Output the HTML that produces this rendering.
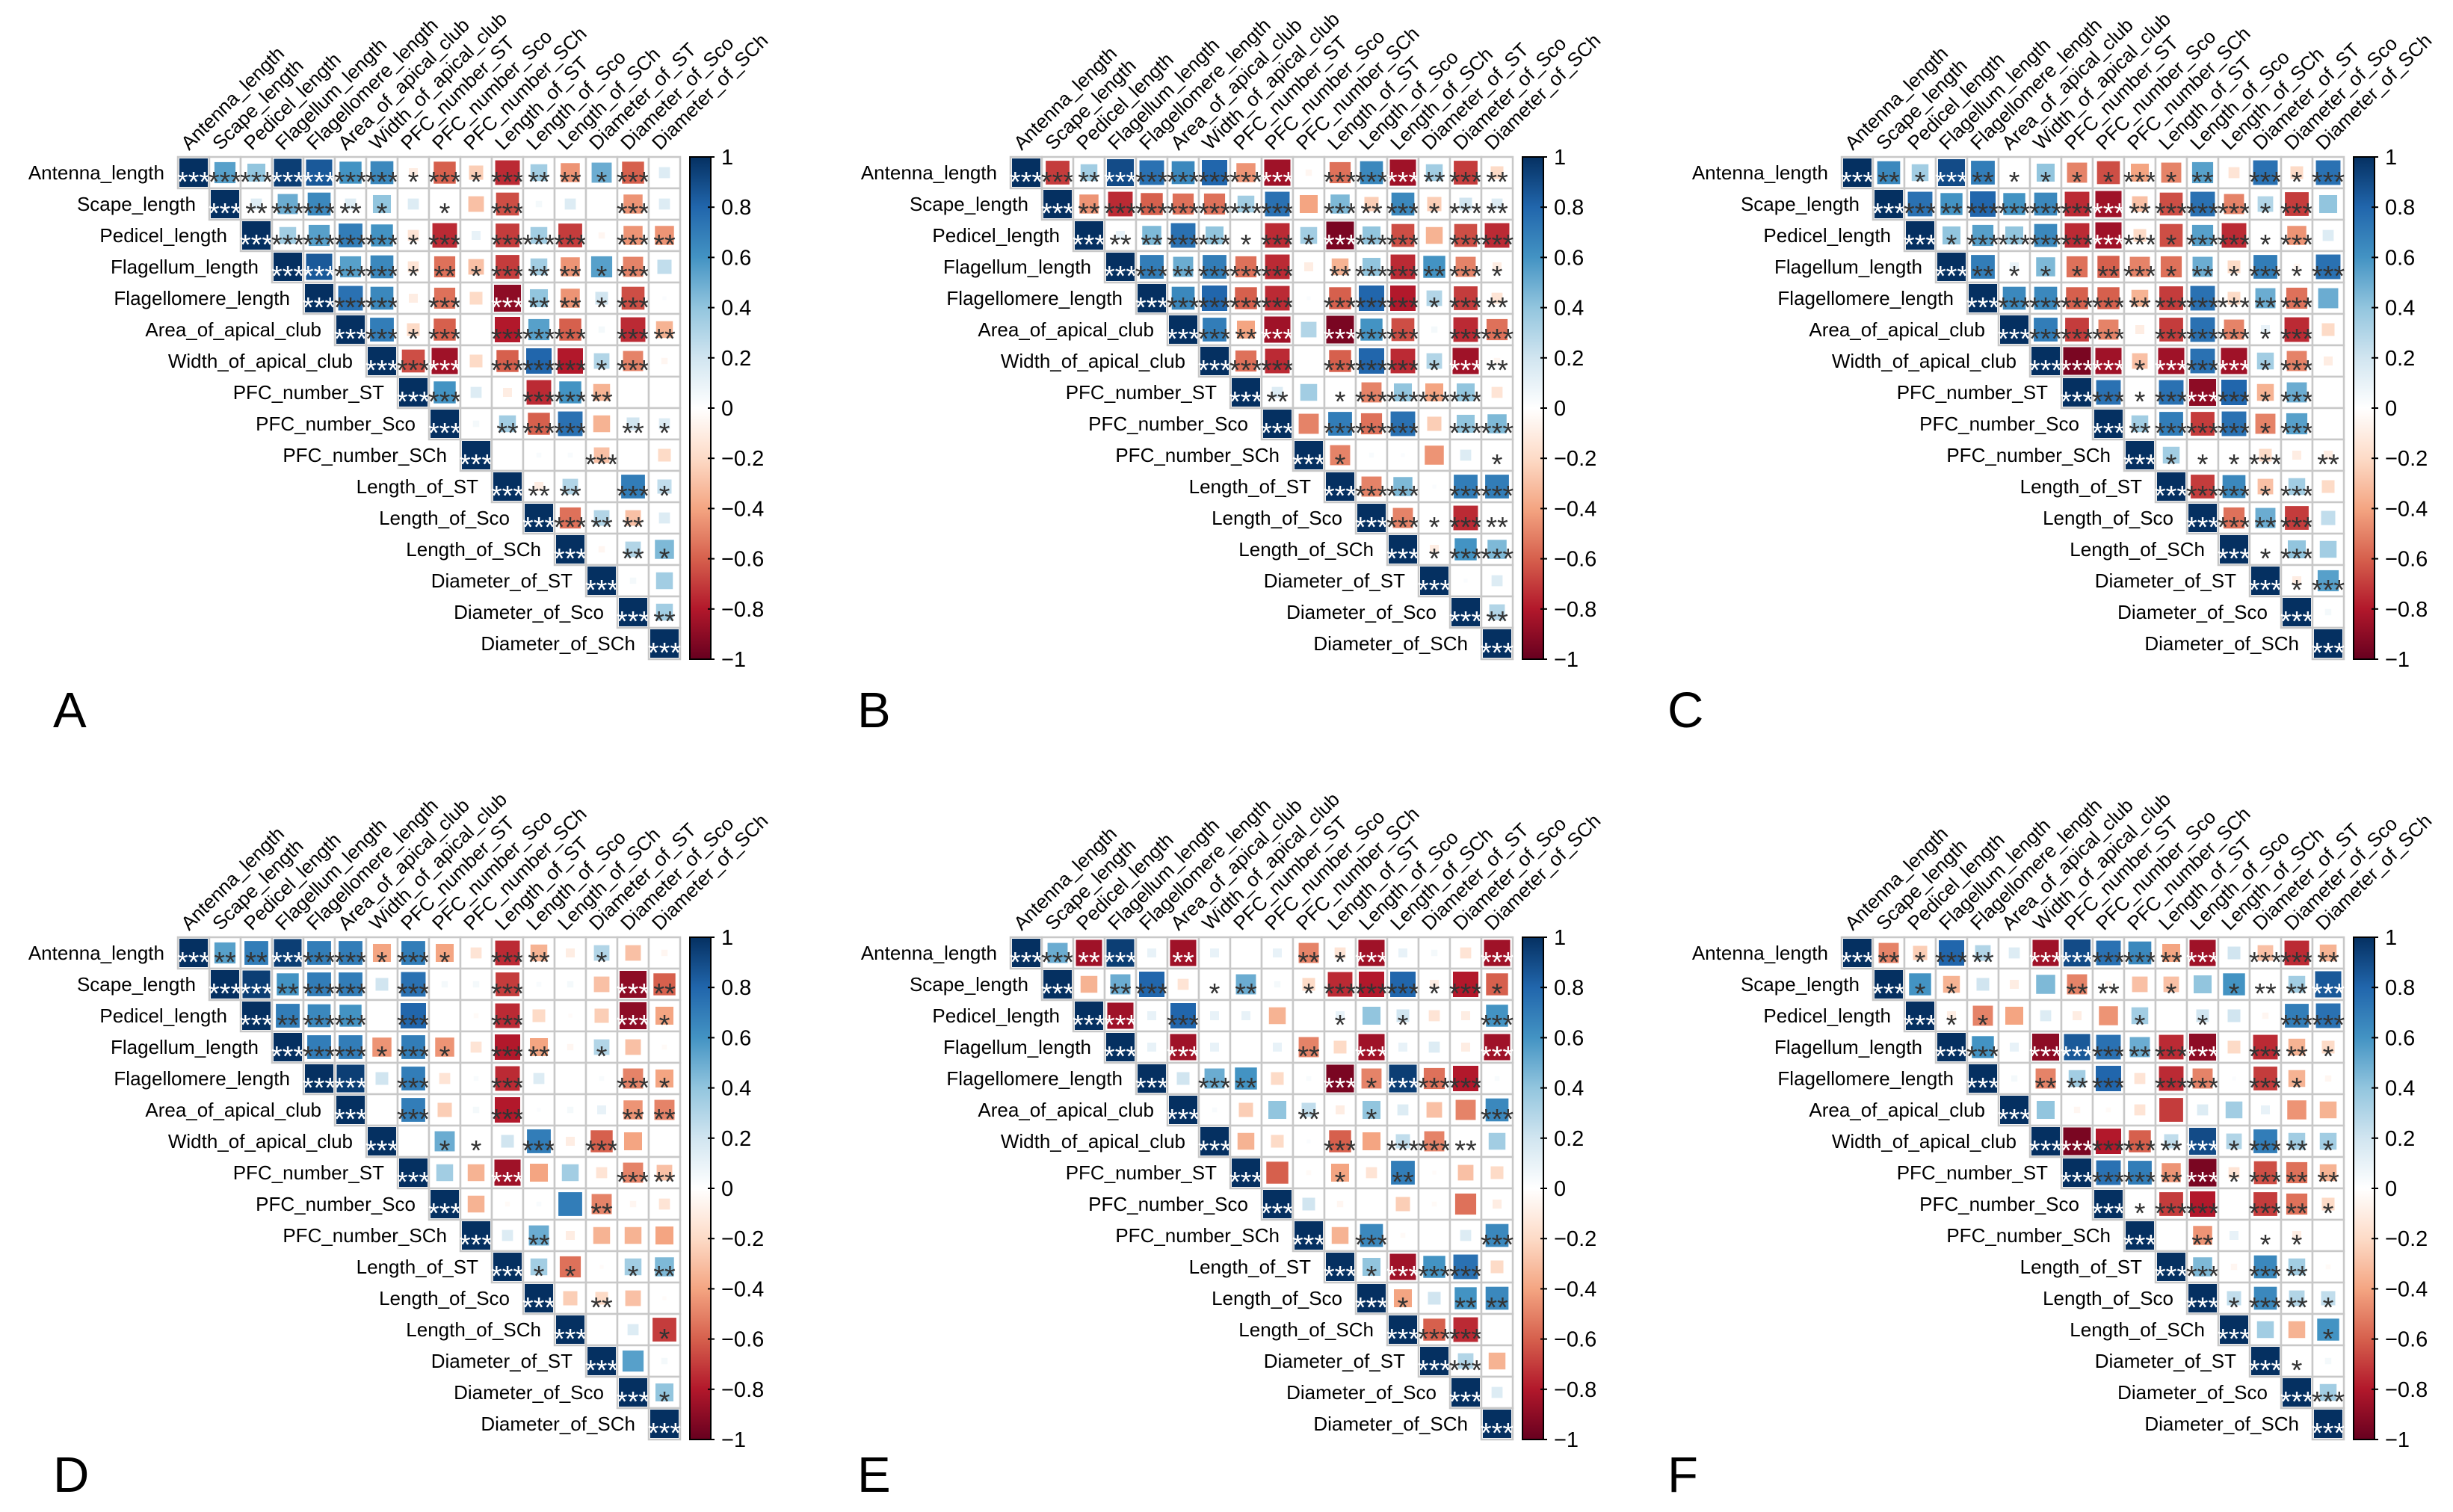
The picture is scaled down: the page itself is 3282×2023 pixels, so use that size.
<!DOCTYPE html>
<html><head><meta charset="utf-8"><style>
html,body{margin:0;padding:0;background:#fff;}
svg{display:block;font-family:"Liberation Sans",Arial,sans-serif;}
</style></head>
<body>
<svg id="fig" width="3282" height="2023" viewBox="0 0 3282 2023" xmlns="http://www.w3.org/2000/svg">
<defs>
<linearGradient id="rdbu" x1="0" y1="1" x2="0" y2="0">
<stop offset="0" stop-color="#67001F"/><stop offset="0.1" stop-color="#B2182B"/><stop offset="0.2" stop-color="#D6604D"/><stop offset="0.3" stop-color="#F4A582"/><stop offset="0.4" stop-color="#FDDBC7"/><stop offset="0.5" stop-color="#FFFFFF"/><stop offset="0.6" stop-color="#D1E5F0"/><stop offset="0.7" stop-color="#92C5DE"/><stop offset="0.8" stop-color="#4393C3"/><stop offset="0.9" stop-color="#2166AC"/><stop offset="1" stop-color="#053061"/>
</linearGradient>
</defs>
</svg>
<script>
const varNames = ["Antenna_length","Scape_length","Pedicel_length","Flagellum_length","Flagellomere_length","Area_of_apical_club","Width_of_apical_club","PFC_number_ST","PFC_number_Sco","PFC_number_SCh","Length_of_ST","Length_of_Sco","Length_of_SCh","Diameter_of_ST","Diameter_of_Sco","Diameter_of_SCh"];
const colorbarTicks = [1,0.8,0.6,0.4,0.2,0,-0.2,-0.4,-0.6,-0.8,-1];
const panelLabels = ["A","B","C","D","E","F"];

const rA = [[0.55,0.4,0.95,0.85,0.6,0.65,-0.1,-0.6,-0.25,-0.75,0.35,-0.45,0.5,-0.6,0.15],[0.15,0.5,0.65,0.15,0.4,0.15,0,-0.3,-0.65,0.05,0.15,0,-0.45,0.15],[0.35,0.55,0.7,0.6,-0.15,-0.75,0.1,-0.7,0.35,-0.7,-0.05,-0.45,-0.45],[0.85,0.55,0.65,-0.15,-0.55,-0.3,-0.7,0.35,-0.45,0.55,-0.5,0.25],[0.75,0.65,-0.1,-0.55,-0.2,-0.9,0.4,-0.45,0.2,-0.65,0.02],[0.7,-0.2,-0.6,0,-0.8,0.55,-0.6,0.05,-0.75,-0.35],[-0.65,-0.85,-0.2,-0.6,0.8,-0.8,0.3,-0.5,-0.05],[0.6,0.15,-0.1,-0.75,0.6,-0.35,0,0],[0.05,0.35,-0.6,0.75,-0.35,0.2,0.15],[0,0.03,0.03,-0.3,0,-0.2],[-0.1,0.3,0,0.7,0.25],[-0.55,0.3,-0.3,0.15],[-0.05,0.3,0.45],[0.05,0.35],[0.35]];
const sA = ["333333131322130","23321010300030","3333130333032","333121322130","33030322130","3130333032","330333130","30033200","0233021","000300","22031","3220","021","00","2"];

const rB = [[-0.7,0.35,0.9,0.75,0.65,0.8,-0.45,-0.85,-0.05,-0.55,0.65,-0.85,0.35,-0.7,-0.2],[-0.45,-0.75,-0.6,-0.55,-0.55,0.35,0.75,-0.4,0.45,-0.25,0.65,-0.25,0.2,0.15],[0.1,0.45,0.75,0.4,0,-0.75,0.35,-0.95,0.4,-0.65,-0.35,-0.65,-0.75],[0.7,0.5,0.7,-0.55,-0.75,-0.1,-0.35,0.4,-0.75,0.6,-0.5,-0.1],[0.65,0.8,-0.6,-0.75,0.02,-0.6,0.8,-0.8,0.3,-0.7,-0.15],[0.7,-0.4,-0.85,0.3,-0.95,0.6,-0.65,0.05,-0.75,-0.55],[-0.55,-0.75,0,-0.6,0.8,-0.75,0.3,-0.85,-0.05],[0.15,0.35,0,-0.5,0.4,-0.4,0.4,-0.15],[-0.5,0.7,-0.55,0.75,-0.25,0.4,0.45],[-0.5,0.03,0.02,-0.45,0.15,0],[-0.5,0.45,0.02,0.7,0.7],[-0.5,0,-0.75,0],[-0.1,0.6,0.45],[0.02,0.15],[0.3]];
const sB = ["323333330333232","23333330323132","2233131333033","323330233231","33330333132","3230333033","330333132","20133330","0333033","100001","33033","3132","133","00","2"];

const rC = [[0.65,0.35,0.9,0.7,0,0.4,-0.5,-0.65,-0.4,-0.5,0.55,-0.15,0.75,-0.2,0.75],[0.75,0.6,0.8,0.6,0.65,-0.75,-0.85,-0.3,-0.65,0.75,-0.5,0.3,-0.7,0.4],[0.4,0.55,0.4,0.65,-0.75,-0.85,-0.2,-0.65,0.55,-0.75,0,-0.45,0.15],[0.7,0.1,0.45,-0.55,-0.6,-0.5,-0.55,0.5,-0.2,0.7,-0.05,0.75],[0.65,0.65,-0.6,-0.6,-0.35,-0.7,0.75,-0.2,0.5,-0.55,0.5],[0.7,-0.7,-0.5,-0.1,-0.7,0.75,-0.5,0.1,-0.75,-0.2],[-0.95,-0.85,-0.3,-0.85,0.75,-0.85,0.35,-0.5,-0.1],[0.75,0,0.75,-0.9,0.8,-0.35,0.5,0],[0.35,0.7,-0.7,0.75,-0.5,0.55,0],[0.35,0,0,-0.2,-0.1,-0.1],[-0.7,0.65,-0.3,0.35,-0.2],[-0.55,0.5,-0.7,0.25],[0,0.4,0.35],[-0.1,0.55],[0.05]];
const sC = ["213211113120313","32333332333130","1333333133130","211123121313","33332333230","3330333130","331333130","31333130","2333130","111302","33130","3230","130","13","0"];

const rD = [[0.55,0.7,0.95,0.7,0.7,-0.4,0.7,-0.4,-0.15,-0.75,-0.35,-0.1,0.3,-0.3,-0.05],[0.95,0.6,0.7,0.7,0.2,0.75,0.05,0.05,-0.7,0.03,0.05,-0.3,-0.9,-0.6],[0.7,0.65,0.6,0,0.8,0,-0.03,-0.75,-0.2,-0.02,-0.25,-0.9,-0.4],[0.7,0.7,-0.45,0.7,-0.45,-0.15,-0.8,-0.4,-0.05,0.3,-0.3,-0.03],[0.95,0.2,0.7,-0.15,0.03,-0.75,0.15,0,0.03,-0.5,-0.4],[0,0.7,-0.25,0.05,-0.8,0.02,0.05,0.1,-0.45,-0.5],[0,0.5,0,0.2,0.7,-0.1,-0.6,-0.4,0],[0.35,-0.35,-0.85,-0.4,0.35,-0.15,-0.5,-0.3],[-0.35,-0.03,0.03,0.7,-0.5,-0.05,-0.15],[0.15,0.5,-0.1,-0.35,-0.35,-0.4],[0.35,-0.55,-0.02,0.35,0.45],[-0.25,-0.2,-0.3,-0.02],[0,0.15,-0.7],[0.55,0.05],[0.4]];
const sD = ["223331310320100","32330300300032","2330300300031","331310320100","30300300031","0300300022","011030300","00300032","0000200","020000","11012","0200","001","00","1"];

const rE = [[0.5,-0.85,0.95,0.1,-0.85,0.1,0,0.1,-0.5,-0.15,-0.85,0.1,0.05,-0.15,-0.85],[-0.35,0.5,0.8,-0.15,0,0.5,0.05,-0.2,-0.75,-0.8,0.8,-0.1,-0.8,-0.6],[-0.85,0.1,0.8,0.1,0.1,-0.35,0,0.1,0.4,0.2,-0.15,-0.1,0.6],[0.1,-0.85,0.1,0,0.1,-0.5,-0.2,-0.85,0.1,0.15,-0.1,-0.85],[0.2,0.5,0.6,-0.2,0.03,-0.95,-0.5,0.95,-0.55,-0.8,0.03],[0.03,-0.25,0.4,0.25,-0.1,0.4,0.15,-0.3,-0.5,0.65],[-0.35,-0.2,0.02,-0.6,-0.4,0.25,-0.5,0,0.35],[-0.6,-0.03,-0.4,-0.15,0.7,-0.02,-0.3,-0.2],[0.2,-0.05,0,-0.25,-0.03,-0.55,-0.1],[-0.35,0.65,-0.03,0,0.15,0.65],[0.4,-0.85,0.6,0.75,-0.2],[-0.4,0.2,0.6,0.65],[-0.6,-0.75,0],[0.3,-0.35],[0.15]];
const sE = ["323020002130003","02301201333131","3030000101003","030002030003","03200313330","0002010003","000303320","00102000","0000000","030003","13330","1022","330","30","0"];

const rF = [[-0.5,-0.25,0.8,0.3,0.15,-0.85,0.9,0.75,0.65,-0.4,-0.85,0.2,-0.3,-0.75,-0.35],[0.6,-0.35,0.2,-0.1,0.45,-0.5,-0.05,-0.3,-0.3,0.4,0.6,0,0.35,0.85],[-0.1,-0.5,-0.4,0.15,-0.1,-0.45,0.35,0,0.2,0.2,-0.05,0.7,0.75],[0.6,0.1,-0.9,0.85,0.75,0.5,-0.75,-0.9,-0.2,-0.75,-0.35,-0.2],[0.05,-0.5,0.35,0.8,-0.15,-0.75,-0.5,0.02,-0.7,-0.35,-0.05],[0.4,-0.05,-0.03,-0.15,-0.7,0.15,0.35,0.1,-0.45,-0.35],[-0.95,-0.8,-0.6,0.25,0.9,0.3,0.7,0.35,0.35],[0.75,0.7,-0.45,-0.95,-0.15,-0.65,-0.55,-0.35],[0,-0.7,-0.8,0,-0.7,-0.55,-0.2],[0,-0.45,0.1,0,-0.1,0],[0.45,-0.05,0.65,0.35,-0.03],[0.25,0.65,0.3,0.25],[0.35,-0.35,0.6],[0,0.05],[0.35]];
const sF = ["213203333230332","11000220101223","1100001010033","303332330321","02230330310","0000000000","333231321","33231322","1330321","020110","30320","1321","001","10","3"];

const NS = "http://www.w3.org/2000/svg";
const svg = document.getElementById("fig");
const CELL = 42;
const stops = [[-1,[103,0,31]],[-0.8,[178,24,43]],[-0.6,[214,96,77]],[-0.4,[244,165,130]],[-0.2,[253,219,199]],[0,[255,255,255]],[0.2,[209,229,240]],[0.4,[146,197,222]],[0.6,[67,147,195]],[0.8,[33,102,172]],[1,[5,48,97]]];
function colorOf(v){
  for(let i=0;i<stops.length-1;i++){
    const a=stops[i],b=stops[i+1];
    if(v>=a[0]&&v<=b[0]){const t=(v-a[0])/(b[0]-a[0]);
      const c=a[1].map((x,k)=>Math.round(x+(b[1][k]-x)*t));return `rgb(${c[0]},${c[1]},${c[2]})`;}
  }
  return v<0?"rgb(103,0,31)":"rgb(5,48,97)";
}
function mk(tag,attrs,parent){const e=document.createElementNS(NS,tag);for(const k in attrs)e.setAttribute(k,attrs[k]);(parent||svg).appendChild(e);return e;}

const panels = [
  {r:rA,s:sA,x:238,y:210,lx:71,ly:973},
  {r:rB,s:sB,x:1352,y:210,lx:1147,ly:973},
  {r:rC,s:sC,x:2464,y:210,lx:2231,ly:973},
  {r:rD,s:sD,x:238,y:1254,lx:71,ly:1996},
  {r:rE,s:sE,x:1352,y:1254,lx:1147,ly:1996},
  {r:rF,s:sF,x:2464,y:1254,lx:2231,ly:1996}
];
const LABEL_FS = 26;

panels.forEach((p,pi)=>{
  const g = mk("g",{});
  
  
  const xs = j=>p.x+j*CELL, ys = i=>p.y+i*CELL;
  varNames.forEach((n,j)=>{
    const cx = xs(j)+CELL/2-6, cy = p.y-8;
    const t = mk("text",{x:cx,y:cy,"font-size":LABEL_FS,fill:"#000",transform:`rotate(-45 ${cx} ${cy})`},g);
    t.textContent=n;
    
    
  });
  for(let i=0;i<16;i++){
    const t = mk("text",{x:xs(i)-18,y:ys(i)+CELL/2+9,"font-size":LABEL_FS,"text-anchor":"end",fill:"#000"},g);
    t.textContent=varNames[i];
    
    
    for(let j=i;j<16;j++){
      const v = (j===i)?1:p.r[i][j-i-1];
      const st = (j===i)?3:parseInt(p.s[i][j-i-1]||"0");
      if(v===undefined) continue;
      const cell = mk("rect",{x:xs(j),y:ys(i),width:CELL,height:CELL,fill:"#fff",stroke:"#c8c8c8","stroke-width":2.5},g);
      
      
      const side = Math.sqrt(Math.abs(v))*(CELL-4);
      const sq = mk("rect",{x:xs(j)+CELL/2-side/2,y:ys(i)+CELL/2-side/2,width:side,height:side,fill:colorOf(v)},g);
      
      
      if(st>0){
        const tx = mk("text",{x:xs(j)+CELL/2,y:ys(i)+CELL/2+25,"font-size":38,"text-anchor":"middle",fill:Math.abs(v)>=0.85?"#fff":"#333"},g);
        tx.textContent="*".repeat(st);
        
        
      }
    }
  }
  const bx = p.x+685, bw=28, top=p.y, bot=p.y+16*CELL;
  const cb = mk("rect",{x:bx,y:top,width:bw,height:bot-top,fill:"url(#rdbu)",stroke:"#000","stroke-width":2},g);
  
  
  colorbarTicks.forEach(v=>{
    const yy = top+(1-v)/2*(bot-top);
    const tk = mk("line",{x1:bx+bw-4,x2:bx+bw+5,y1:yy,y2:yy,stroke:"#000","stroke-width":2},g);
    
    
    const tl = mk("text",{x:bx+bw+14,y:yy+10,"font-size":29,fill:"#000"},g);
    tl.textContent = v<0?("\u2212"+Math.abs(v)):String(v);
    
    
  });
  const pl = mk("text",{x:p.lx,y:p.ly,"font-size":67,fill:"#000"},g);
  pl.textContent = panelLabels[pi];
  
  
});
</script>
</body></html>
